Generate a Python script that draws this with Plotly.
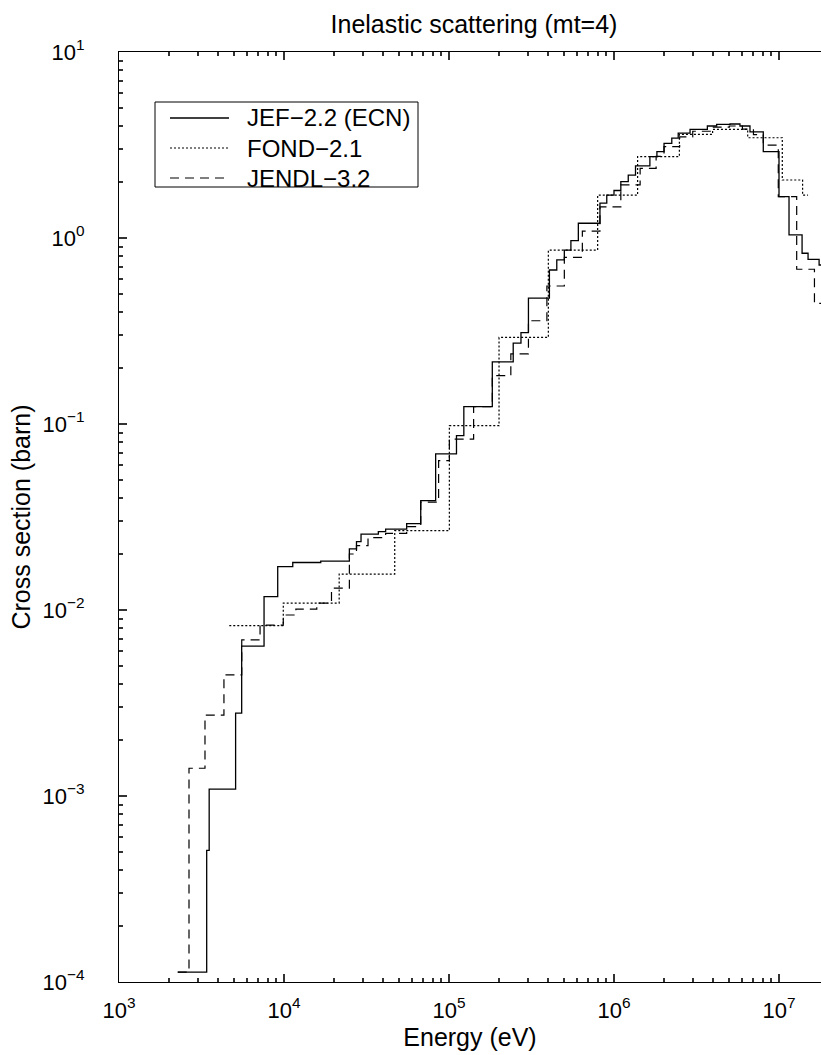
import plotly.graph_objects as go

# Group boundaries (eV) and group cross sections (barn) for each evaluation.
# Each energy list holds one more entry than its cross-section list (upper bound of last group).
jef_energy = [2270, 3400, 3520, 5090, 5540, 7570, 9160, 11300, 16700, 24900, 27500, 29300,
              37300, 41300, 55400, 67400, 83000, 111000, 123000, 183000, 245000, 273000,
              303000, 406000, 450000, 500000, 548000, 608000, 822000, 904000, 1.0e6, 1.10e6,
              1.22e6, 1.35e6, 1.65e6, 1.82e6, 2.01e6, 2.24e6, 2.45e6, 2.89e6, 3.68e6, 4.19e6,
              5.05e6, 5.80e6, 6.67e6, 8.03e6, 1.0e7, 1.15e7, 1.38e7, 1.50e7, 1.75e7, 2.0e7]
jef_xs = [1.13e-4, 5.1e-4, 1.09e-3, 2.79e-3, 6.4e-3, 0.0118, 0.0171, 0.0180, 0.0183, 0.0213,
          0.0233, 0.0256, 0.0264, 0.0272, 0.0291, 0.0387, 0.069, 0.0865, 0.124, 0.216, 0.272,
          0.31, 0.475, 0.673, 0.762, 0.861, 0.968, 1.2, 1.54, 1.70, 1.80, 2.01, 2.18, 2.44,
          2.74, 2.91, 3.23, 3.44, 3.66, 3.84, 4.0, 4.08, 4.1, 4.0, 3.72, 2.91, 1.67, 1.04,
          0.828, 0.768, 0.716]

fond_energy = [4660, 9900, 21600, 46900, 100500, 201000, 400000, 796000, 1.39e6, 2.49e6,
               3.96e6, 6.46e6, 1.047e7, 1.39e7, 1.5e7]
fond_xs = [8.24e-3, 0.0109, 0.0156, 0.0267, 0.098, 0.292, 0.861, 1.70, 2.74, 3.61, 3.84,
           3.46, 2.05, 1.70]

jendl_energy = [2270, 2656, 3320, 4325, 5545, 7160, 9900, 11800, 15800, 19400, 24900, 27500,
                32300, 41300, 55400, 67400, 86500, 100500, 141000, 183000, 237000, 303000,
                392000, 500000, 643000, 822000, 1.1e6, 1.44e6, 1.8e6, 2.01e6, 2.5e6, 3.0e6,
                4.0e6, 5.0e6, 6.0e6, 7.0e6, 8.03e6, 9.9e6, 1.28e7, 1.64e7, 2.0e7]
jendl_xs = [1.13e-4, 1.41e-3, 2.72e-3, 4.48e-3, 6.9e-3, 8.3e-3, 9.4e-3, 0.0101, 0.0109,
            0.0131, 0.0200, 0.0222, 0.0245, 0.0258, 0.0281, 0.038, 0.0635, 0.083, 0.124,
            0.182, 0.238, 0.359, 0.552, 0.787, 1.09, 1.47, 1.93, 2.37, 2.75, 3.1, 3.5, 3.75,
            3.95, 4.0, 3.85, 3.6, 3.16, 1.67, 0.679, 0.445]

x_tickvals = [1e3, 1e4, 1e5, 1e6, 1e7]
x_ticktext = ["10<sup>3</sup>", "10<sup>4</sup>", "10<sup>5</sup>", "10<sup>6</sup>", "10<sup>7</sup>"]
y_tickvals = [1e-4, 1e-3, 1e-2, 1e-1, 1e0, 1e1]
y_ticktext = ["10<sup>\u22124</sup>", "10<sup>\u22123</sup>", "10<sup>\u22122</sup>",
              "10<sup>\u22121</sup>", "10<sup>0</sup>", "10<sup>1</sup>"]

FONT = "Liberation Sans, Arial, Helvetica, sans-serif"

# figure geometry (pixels)
W, H = 821, 1055
M_L, M_R, M_T, M_B = 119, 0, 52, 73
PW, PH = W - M_L - M_R, H - M_T - M_B
X_RANGE = [3, 3 + PW / 165.0]
Y_RANGE = [-4, 1]


def px_to_paper(px, py):
    return (px - M_L) / PW, (H - M_B - py) / PH


def step_points(edges, values):
    # repeat the last value at the upper boundary so the final group is closed
    return list(edges), list(values) + [values[-1]]


def minor_positions(lo_exp, hi_exp):
    return [m * 10.0 ** e for e in range(lo_exp, hi_exp) for m in range(2, 10)]


series = [
    ("JEF\u22122.2 (ECN)", jef_energy, jef_xs, "solid", 1.3),
    ("FOND\u22122.1", fond_energy, fond_xs, "2px,2px", 1.2),
    ("JENDL\u22123.2", jendl_energy, jendl_xs, "9px,6px", 1.2),
]

fig = go.Figure()
for name, edges, vals, dash, width in series:
    x, y = step_points(edges, vals)
    fig.add_trace(go.Scatter(
        x=x, y=y, mode="lines", name=name, showlegend=False,
        line=dict(color="black", width=width, dash=dash, shape="hv"),
    ))

axis_common = dict(
    type="log",
    tickmode="array",
    ticks="inside",
    ticklen=8,
    tickwidth=1.5,
    tickcolor="#333333",
    showline=True,
    linecolor="black",
    linewidth=1.2,
    showgrid=False,
    zeroline=False,
    tickfont=dict(family=FONT, size=22, color="black"),
)

minor_common = dict(tickmode="array", ticks="inside", ticklen=4, tickwidth=1.5,
                    tickcolor="#333333", showgrid=False)

fig.update_layout(
    xaxis=dict(
        **axis_common,
        range=X_RANGE,
        tickvals=x_tickvals,
        ticktext=x_ticktext,
        mirror="ticks",
        ticklabelstandoff=8,
        minor=dict(**minor_common, tickvals=minor_positions(3, 8)),
        title=dict(text="Energy (eV)", font=dict(family=FONT, size=25, color="black"), standoff=2),
    ),
    yaxis=dict(
        **axis_common,
        range=Y_RANGE,
        tickvals=y_tickvals,
        ticktext=y_ticktext,
        mirror=False,
        ticklabelstandoff=29,
        minor=dict(**minor_common, tickvals=minor_positions(-4, 1)),
        title=dict(text="Cross section (barn)", font=dict(family=FONT, size=25, color="black"), standoff=4),
    ),
)

# legend box with line samples and labels
box_x0, box_x1, box_top, box_bot = 155, 418, 102, 187
row_y = [118, 148, 178]
sample_x0, sample_x1, text_x = 170, 229, 245

shapes = []
annotations = []
bx0, by0 = px_to_paper(box_x0, box_bot)
bx1, by1 = px_to_paper(box_x1, box_top)
shapes.append(dict(type="rect", xref="paper", yref="paper", x0=bx0, x1=bx1, y0=by0, y1=by1,
                   line=dict(color="black", width=1), fillcolor="white", layer="above"))
for (name, _, _, dash, width), ry in zip(series, row_y):
    lx0, ly = px_to_paper(sample_x0, ry)
    lx1, _ = px_to_paper(sample_x1, ry)
    shapes.append(dict(type="line", xref="paper", yref="paper", x0=lx0, x1=lx1, y0=ly, y1=ly,
                       line=dict(color="black", width=width, dash=dash), layer="above"))
    tx, _ = px_to_paper(text_x, ry)
    annotations.append(dict(text=name, xref="paper", yref="paper", x=tx, y=ly,
                            xanchor="left", yanchor="middle", showarrow=False,
                            font=dict(family=FONT, size=24, color="black")))

fig.update_layout(
    width=W,
    height=H,
    autosize=False,
    margin=dict(l=M_L, r=M_R, t=M_T, b=M_B),
    paper_bgcolor="white",
    plot_bgcolor="white",
    font=dict(family=FONT, color="black"),
    title=dict(
        text="Inelastic scattering (mt=4)",
        font=dict(family=FONT, size=25, color="black"),
        x=(474 - M_L) / PW, xref="paper", xanchor="center",
        y=1 - 24 / H, yref="container", yanchor="middle",
    ),
    shapes=shapes,
    annotations=annotations,
    showlegend=False,
)

fig.write_html("out.html", config={"displayModeBar": False})
